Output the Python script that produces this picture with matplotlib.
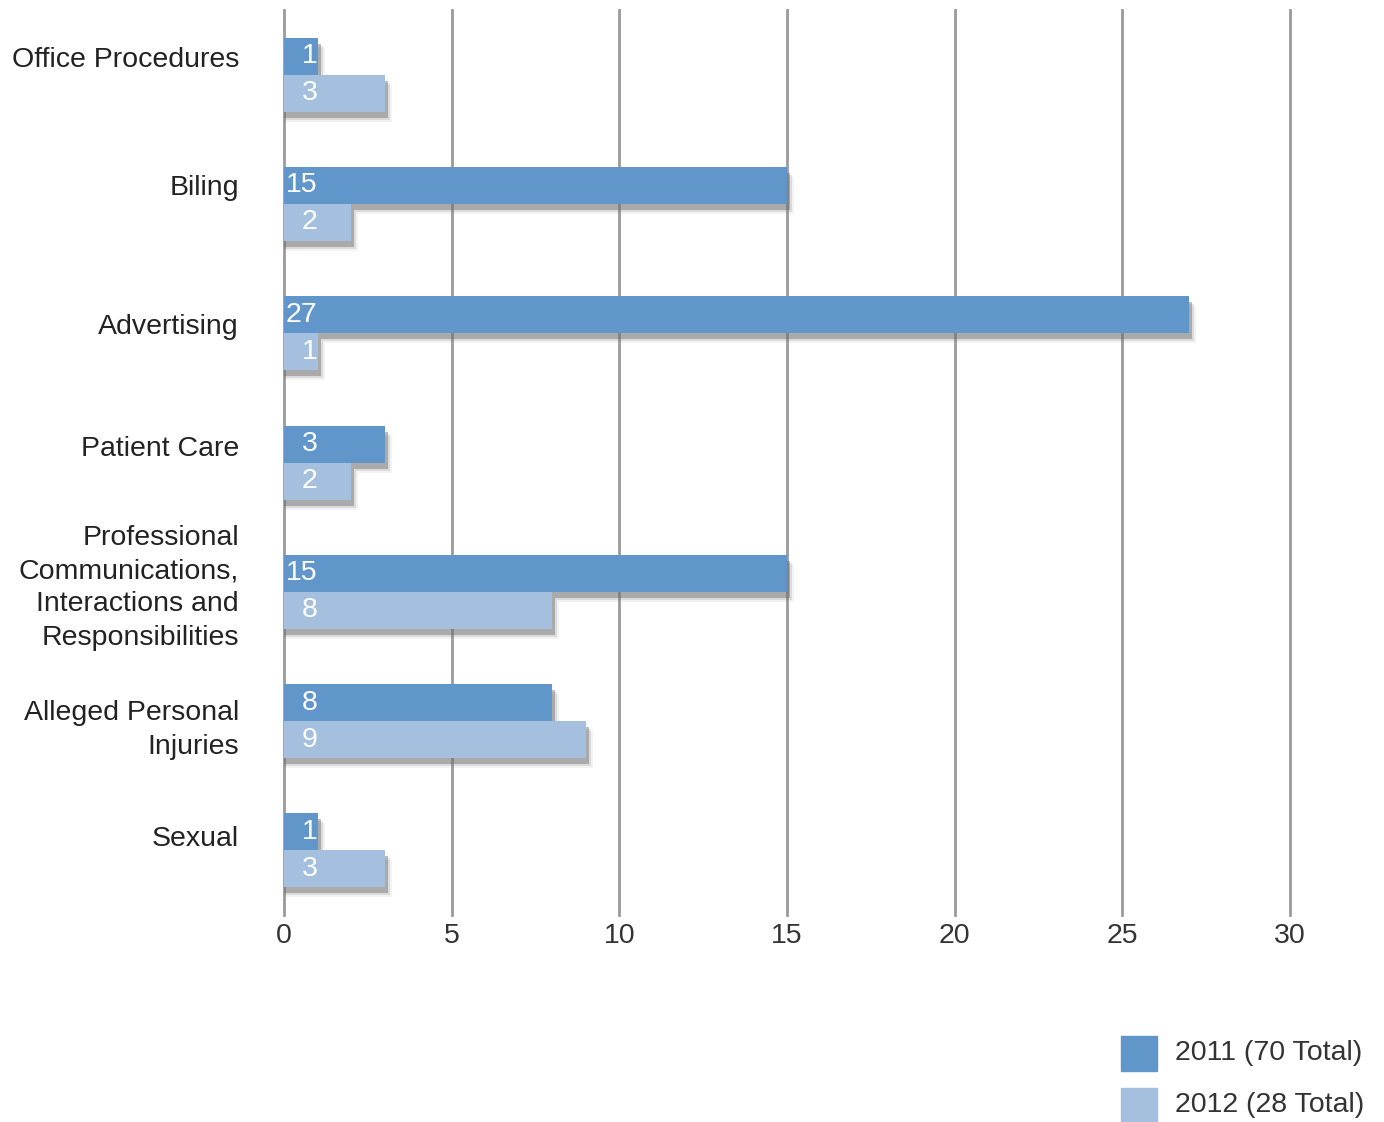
"""
complaints by category, 2011 vs 2012
"""
import matplotlib.pyplot as plt
from matplotlib.patches import Rectangle

plt.rcParams['font.family'] = ['Liberation Sans', 'DejaVu Sans']

categories = ['Office Procedures', 'Biling', 'Advertising', 'Patient Care',
              'Professional\nCommunications,\nInteractions and\nResponsibilities',
              'Alleged Personal\nInjuries', 'Sexual']
vals_2011 = [1, 15, 27, 3, 15, 8, 1]
vals_2012 = [3, 2, 1, 2, 8, 9, 3]
legend_labels = ['2011 (70 Total)', '2012 (28 Total)']
xticks = [0, 5, 10, 15, 20, 25, 30]

c2011 = '#6196cb'
c2012 = '#a5bfde'
W, H = 1384, 1122
fs = 20.5

fig = plt.figure(figsize=(W / 100, H / 100), dpi=100)
ax = fig.add_axes([284 / W, 1 - 915 / H, (1290 - 284) / W, (915 - 10) / H])
ax.set_xlim(0, 30)
ax.set_ylim(len(categories) - 0.5, -0.5)

px_x = 30 / (1290 - 284)
px_y = len(categories) / (915 - 10)
bh = 37 * px_y

# shadows first
for i, (a, b) in enumerate(zip(vals_2011, vals_2012)):
    for v, y0 in ((a, i - bh), (b, i)):
        for off, alpha in ((10, 0.08), (8, 0.18), (6, 0.45)):
            ax.add_patch(Rectangle((0, y0 + off * px_y), v + (off - 3) * px_x, bh,
                                   color='#707070', alpha=alpha, lw=0, zorder=1))

ax.barh([i - bh / 2 for i in range(len(categories))], vals_2011, height=bh,
        color=c2011, zorder=3)
ax.barh([i + bh / 2 for i in range(len(categories))], vals_2012, height=bh,
        color=c2012, zorder=4)

for i, (a, b) in enumerate(zip(vals_2011, vals_2012)):
    ax.text(1.0, i - bh / 2, str(a), color='white', fontsize=fs,
            ha='right', va='center', zorder=5)
    ax.text(1.0, i + bh / 2, str(b), color='white', fontsize=fs,
            ha='right', va='center', zorder=5)

# category labels, nudged a little up like the original
label_shift = [-15, -16, -6, -14, -4, 9, -11]
for i, lab in enumerate(categories):
    ax.text(-45 * px_x, i + label_shift[i] * px_y, lab, ha='right', va='center',
            fontsize=fs, color='#222222', linespacing=1.37)

for x in xticks:
    ax.axvline(x, color='#9a9a9a', lw=2, zorder=0, clip_on=False)

ax.set_xticks(xticks)
ax.set_yticks([])
ax.tick_params(axis='x', length=0, labelsize=fs, labelcolor='#333333', pad=6)
for s in ax.spines.values():
    s.set_visible(False)

# legend
for k, (lab, col) in enumerate(zip(legend_labels, [c2011, c2012])):
    top = 1036 + k * 52
    fig.patches.append(Rectangle((1121 / W, 1 - (top + 35) / H), 36 / W, 35 / H,
                                 color=col, transform=fig.transFigure))
    fig.text(1175 / W, 1 - (top + 17) / H, lab, fontsize=fs, color='#333333',
             va='center', ha='left')

plt.savefig('out.png', dpi=100)
